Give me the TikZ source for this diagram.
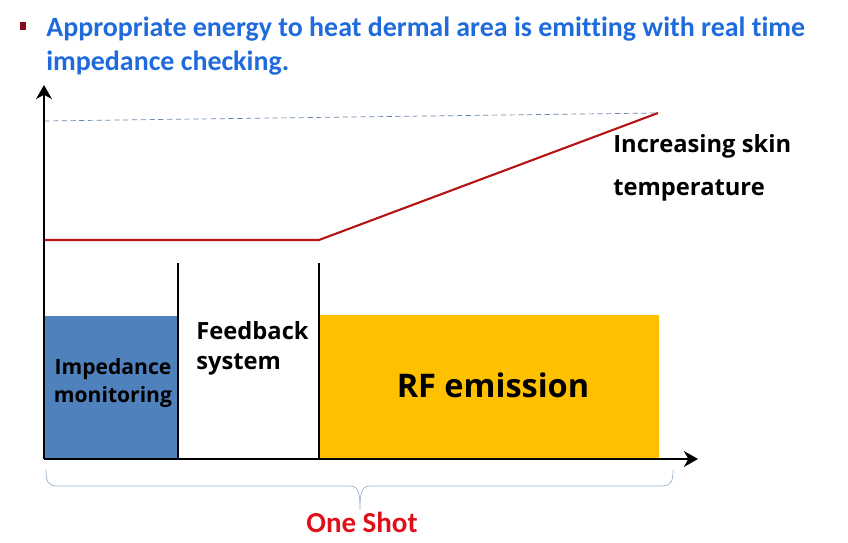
\documentclass[tikz,border=0pt]{standalone}
\usepackage{fontspec}
\setmainfont{Open Sans}
\newfontfamily\headfont[Ligatures=CommonOff]{Carlito}
\usepackage{tikz}
\usetikzlibrary{arrows.meta}

\definecolor{headblue}{HTML}{1F6BDB}
\definecolor{bulletred}{HTML}{8B0A1E}
\definecolor{impblue}{HTML}{4F81BD}
\definecolor{rfyellow}{HTML}{FFC000}
\definecolor{tempred}{HTML}{B41414}
\definecolor{dashgray}{HTML}{6A87A6}
\definecolor{shotred}{HTML}{E0101A}
\definecolor{bracegray}{HTML}{9AAFC6}

\begin{document}
\begin{tikzpicture}[x=0.02cm, y=-0.02cm,
        axis/.style={line width=1.7pt,-{Stealth[length=8pt,width=9pt,inset=2.5pt]}},
        wall/.style={ultra thick},
        label/.style={font=\bfseries\fontsize{13.5}{17}\selectfont, align=left, inner sep=0pt}]
        \useasboundingbox (0, 0) rectangle (848, 543);

        % heading
        \fill [bulletred] (20, 22) rectangle (26, 30);
        \node [anchor=west, inner sep=0pt, align=left, text=headblue,
               font=\headfont\bfseries\fontsize{15.9}{19.8}\selectfont] (head) at (46, 46)
              {Appropriate energy to heat dermal area is emitting with real time\\impedance checking.};

        % blocks
        \fill [impblue] (44, 316) rectangle (178, 459);
        \fill [rfyellow] (319, 315) rectangle (659, 459);
        \draw [wall] (178, 263) -- (178, 459);
        \draw [wall] (319, 263) -- (319, 459);

        % curves
        \draw [dashgray, densely dashed, thin] (44, 121) -- (658, 113);
        \draw [tempred, very thick] (44, 240) -- (319, 240) -- (658, 113);

        % axes
        \coordinate (o) at (44, 459);
        \coordinate (xend) at (698, 459);
        \coordinate (yend) at (44, 85);
        \draw [axis] (o) -- (xend);
        \draw [axis] (o) -- (yend);

        % texts
        \node [label, align=center, font=\bfseries\fontsize{12}{15.5}\selectfont] (imp) at (113, 383) {Impedance\\monitoring};
        \node [label, anchor=north west] (feed) at (196, 321) {Feedback\\system};
        \node [font=\bfseries\fontsize{18.5}{22}\selectfont] (rf) at (493, 385) {RF emission};
        \node [label, anchor=west] (temp1) at (613, 146) {Increasing skin};
        \node [label, anchor=west] (temp2) at (613, 191) {temperature};

        % one shot
        \draw [bracegray, thin] (46, 470) .. controls (46, 482) and (48, 486) .. (58, 486)
              -- (350, 486) .. controls (358, 486) and (360, 492) .. (360, 510)
              .. controls (360, 492) and (362, 486) .. (370, 486)
              -- (661, 486) .. controls (671, 486) and (673, 482) .. (673, 470);
        \node [text=shotred, font=\headfont\bfseries\fontsize{16.5}{18}\selectfont] (shot) at (362, 522) {One Shot};
    \end{tikzpicture}
\end{document}
